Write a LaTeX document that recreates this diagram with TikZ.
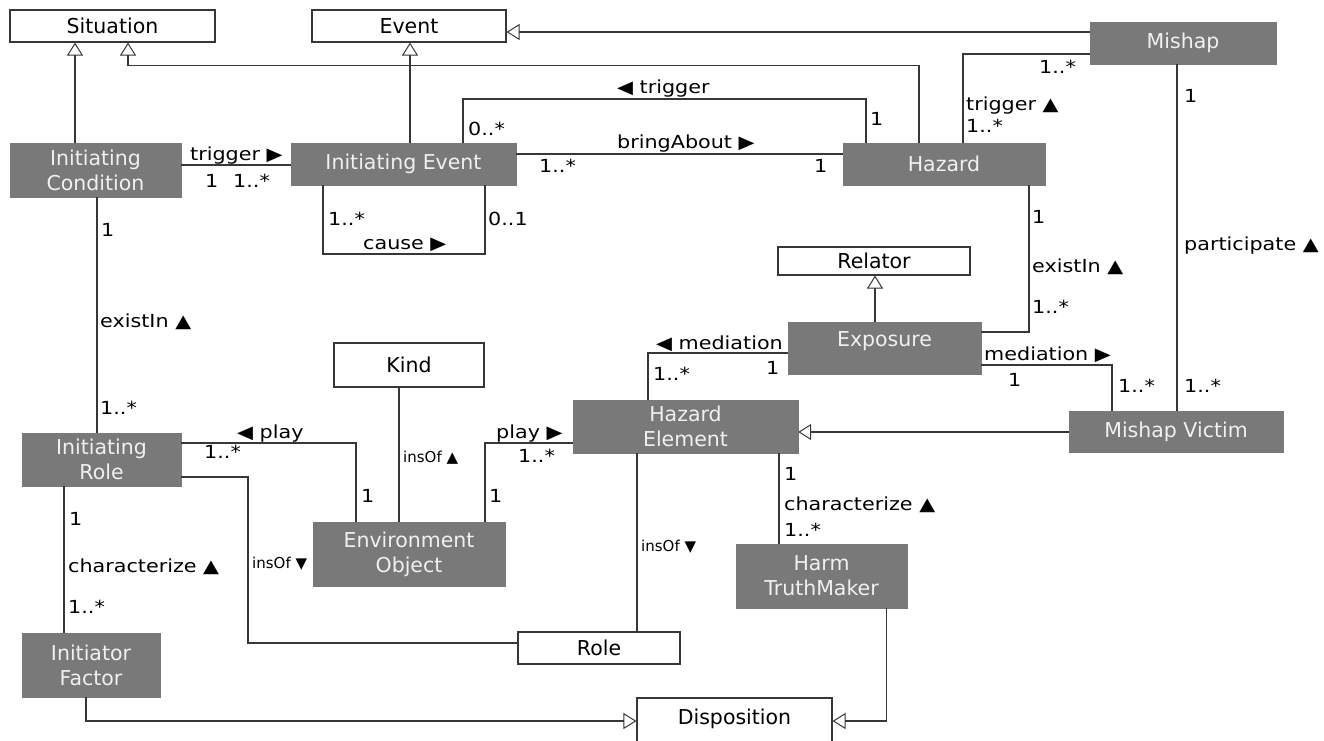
\documentclass[tikz,border=0pt]{standalone}
\usepackage{fontspec}
\setmainfont{DejaVu Sans}
\newfontfamily\labfont[FakeStretch=1.15]{DejaVu Sans}
\usetikzlibrary{arrows.meta,calc}
\definecolor{boxgray}{RGB}{121,121,121}
\definecolor{linegray}{RGB}{55,55,55}
\definecolor{boxtext}{RGB}{240,240,240}
\begin{document}
\begin{tikzpicture}[x=1pt,y=-1pt,
  wbox/.style={draw=linegray, line width=1.1pt, fill=white, inner sep=0pt, font=\fontsize{20.5}{25}\selectfont, text=black},
  gbox/.style={fill=boxgray, draw=boxgray, inner sep=0pt, font=\fontsize{20.5}{25}\selectfont, text=boxtext, align=center},
  conn/.style={draw=linegray, line width=1.1pt},
  gen/.style={conn, -{Triangle[open, length=13pt, width=16pt, line width=1pt]}},
  lab/.style={font=\labfont\fontsize{18}{22}\selectfont, inner sep=0pt, anchor=base west, text=black},
  slab/.style={lab, font=\fontsize{15}{18}\selectfont}]
\useasboundingbox (0,0) rectangle (1324,740);
\fill[white] (0,0) rectangle (1324,740);

% ---- boxes
\node[wbox, minimum width=205pt, minimum height=32pt] (sit) at (112.5,26) {Situation};
\node[wbox, minimum width=194pt, minimum height=32pt] (evt) at (409,26) {Event};
\node[gbox, minimum width=186pt, minimum height=42pt] (mis) at (1183,43) {Mishap};
\node[gbox, minimum width=171pt, minimum height=54pt] (ic) at (95.5,170) {Initiating\\Condition};
\node[gbox, minimum width=225pt, minimum height=42pt] (ie) at (403.5,164) {Initiating Event};
\node[gbox, minimum width=202pt, minimum height=42pt] (haz) at (944,164) {Hazard};
\node[wbox, minimum width=192pt, minimum height=28pt] (rel) at (874,261) {Relator};
\node[gbox, minimum width=193pt, text height=24pt, text depth=28pt] (exp) at (884.5,348) {Exposure};
\node[wbox, minimum width=150pt, minimum height=44pt] (kind) at (409,365) {Kind};
\node[gbox, minimum width=225pt, minimum height=53pt] (he) at (685.5,426.5) {Hazard\\Element};
\node[gbox, minimum width=214pt, minimum height=41pt] (mv) at (1176,431.5) {Mishap Victim};
\node[gbox, minimum width=159pt, minimum height=53pt] (ir) at (101.5,459.5) {Initiating\\Role};
\node[gbox, minimum width=192pt, minimum height=64pt] (eo) at (409,554) {Environment\\Object};
\node[gbox, minimum width=171pt, minimum height=64pt] (htm) at (821.5,576) {Harm\\TruthMaker};
\node[wbox, minimum width=162pt, minimum height=32pt] (role) at (599,648) {Role};
\node[gbox, minimum width=138pt, minimum height=64pt] (if) at (91,665) {Initiator\\Factor};
\node[wbox, minimum width=195pt, minimum height=48pt, text depth=10pt] (dis) at (734.5,722) {Disposition};

% ---- helper coordinates
\coordinate (c1) at (75,0);
\coordinate (c2a) at (919,65.5);
\coordinate (c2b) at (128,65.5);
\coordinate (c3) at (410,0);
\coordinate (c4) at (0,32);
\coordinate (c5) at (0,165);
\coordinate (c6a) at (463,99);
\coordinate (c6b) at (866,99);
\coordinate (c7) at (0,154);
\coordinate (c8a) at (323,254);
\coordinate (c8b) at (485,254);
\coordinate (c9) at (963,54);
\coordinate (c10) at (1177,0);
\coordinate (c11) at (1029,332);
\coordinate (c12) at (875,0);
\coordinate (c13) at (648,353);
\coordinate (c14) at (1112,365);
\coordinate (c15) at (0,432);
\coordinate (c16) at (97,0);
\coordinate (c17) at (356,443);
\coordinate (c18) at (399,0);
\coordinate (c19) at (485,443);
\coordinate (c20a) at (248,477);
\coordinate (c20b) at (248,643);
\coordinate (c21) at (637,0);
\coordinate (c22) at (779,0);
\coordinate (c23) at (64,0);
\coordinate (c24) at (86,721);
\coordinate (c25) at (886.5,721);

% ---- connectors
\draw[gen] (ic.north -| c1) -- (sit.south -| c1);
\draw[gen] (haz.north -| c2a) -- (c2a) -- (c2b) -- (sit.south -| c2b);
\draw[gen] (ie.north -| c3) -- (evt.south -| c3);
\draw[gen] (mis.west |- c4) -- (evt.east |- c4);
\draw[conn] (ic.east |- c5) -- (ie.west |- c5);
\draw[conn] (ie.north -| c6a) -- (c6a) -- (c6b) -- (haz.north -| c6b);
\draw[conn] (ie.east |- c7) -- (haz.west |- c7);
\draw[conn] (ie.south -| c8a) -- (c8a) -- (c8b) -- (ie.south -| c8b);
\draw[conn] (haz.north -| c9) -- (c9) -- (mis.west |- c9);
\draw[conn] (mis.south -| c10) -- (mv.north -| c10);
\draw[conn] (haz.south -| c11) -- (c11) -- (exp.east |- c11);
\draw[gen] (exp.north -| c12) -- (rel.south -| c12);
\draw[conn] (exp.west |- c13) -- (c13) -- (he.north -| c13);
\draw[conn] (exp.east |- c14) -- (c14) -- (mv.north -| c14);
\draw[gen] (mv.west |- c15) -- (he.east |- c15);
\draw[conn] (ic.south -| c16) -- (ir.north -| c16);
\draw[conn] (ir.east |- c17) -- (c17) -- (eo.north -| c17);
\draw[conn] (kind.south -| c18) -- (eo.north -| c18);
\draw[conn] (eo.north -| c19) -- (c19) -- (he.west |- c19);
\draw[conn] (ir.east |- c20a) -- (c20a) -- (c20b) -- (role.west |- c20b);
\draw[conn] (he.south -| c21) -- (role.north -| c21);
\draw[conn] (he.south -| c22) -- (htm.north -| c22);
\draw[conn] (ir.south -| c23) -- (if.north -| c23);
\draw[gen] (if.south -| c24) -- (c24) -- (dis.west |- c24);
\draw[gen] (htm.south -| c25) -- (c25) -- (dis.east |- c25);

% ---- labels
\node[lab] (l1) at (190,160) {trigger ▶};
\node[lab] (l2) at (205,187) {1};
\node[lab] (l3) at (233,187) {1..*};
\node[lab] (l4) at (468,135) {0..*};
\node[lab] (l5) at (617,93) {◀ trigger};
\node[lab] (l6) at (870,125) {1};
\node[lab] (l7) at (617,148) {bringAbout ▶};
\node[lab] (l8) at (539,172) {1..*};
\node[lab] (l9) at (814,172) {1};
\node[lab] (l10) at (328,225) {1..*};
\node[lab] (l11) at (363,249) {cause ▶};
\node[lab] (l12) at (488,225) {0..1};
\node[lab] (l13) at (1039,73) {1..*};
\node[lab] (l14) at (966,110) {trigger ▲};
\node[lab] (l15) at (966,132) {1..*};
\node[lab] (l16) at (1184,102) {1};
\node[lab] (l17) at (1184,250) {participate ▲};
\node[lab] (l18) at (1184,392) {1..*};
\node[lab] (l19) at (1032,223) {1};
\node[lab] (l20) at (1032,272) {existIn ▲};
\node[lab] (l21) at (1032,313) {1..*};
\node[lab] (l22) at (656,349) {◀ mediation};
\node[lab] (l23) at (766,374) {1};
\node[lab] (l24) at (653,380) {1..*};
\node[lab] (l25) at (984,360) {mediation ▶};
\node[lab] (l26) at (1008,386) {1};
\node[lab] (l27) at (1118,392) {1..*};
\node[lab] (l28) at (101,236) {1};
\node[lab] (l29) at (100,327) {existIn ▲};
\node[lab] (l30) at (100,414) {1..*};
\node[lab] (l31) at (237,438) {◀ play};
\node[lab] (l32) at (204,458) {1..*};
\node[lab] (l33) at (361,502) {1};
\node[slab] (l34) at (403,462) {insOf ▲};
\node[lab] (l35) at (496,438) {play ▶};
\node[lab] (l36) at (518,462) {1..*};
\node[lab] (l37) at (489,502) {1};
\node[slab] (l38) at (252,568) {insOf ▼};
\node[slab] (l39) at (641,551) {insOf ▼};
\node[lab] (l40) at (784,480) {1};
\node[lab] (l41) at (784,510) {characterize ▲};
\node[lab] (l42) at (784,536) {1..*};
\node[lab] (l43) at (69,525) {1};
\node[lab] (l44) at (68,572) {characterize ▲};
\node[lab] (l45) at (68,613) {1..*};
\end{tikzpicture}
\end{document}
